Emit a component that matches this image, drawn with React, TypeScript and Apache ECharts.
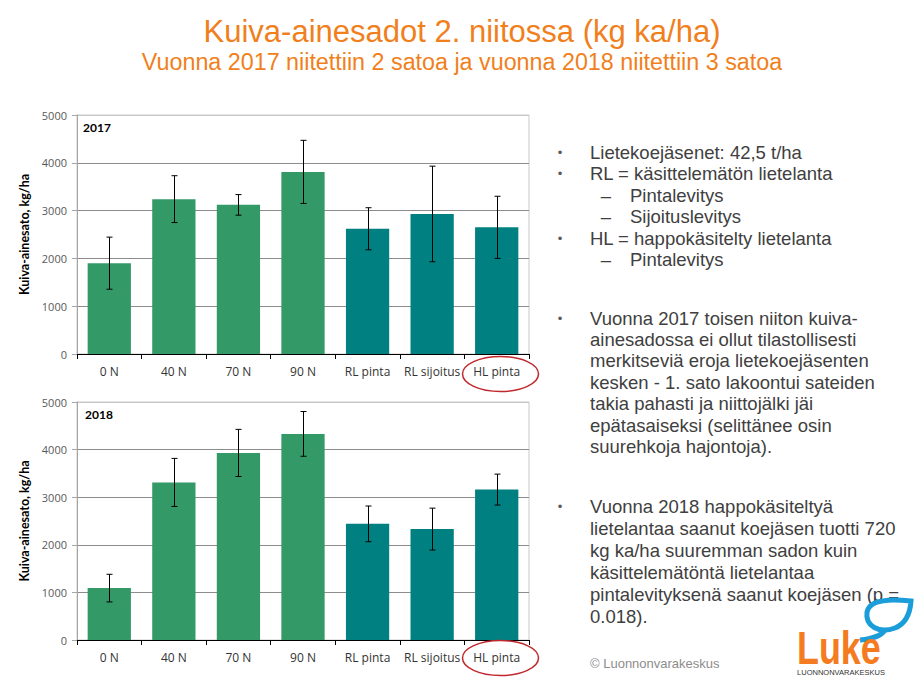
import React, { useEffect, useRef } from "react";
import * as echarts from "echarts";

// ---------- Data ----------
const categories = ["0 N", "40 N", "70 N", "90 N", "RL pinta", "RL sijoitus", "HL pinta"];
const yield2017 = [1900, 3240, 3120, 3810, 2620, 2930, 2650];
const sd2017 = [545, 490, 215, 660, 440, 1000, 650];
const yield2018 = [1090, 3310, 3930, 4330, 2440, 2330, 3160];
const sd2018 = [290, 505, 495, 470, 375, 440, 325];
const manureType = ["min", "min", "min", "min", "slurry", "slurry", "slurry"];
const yMin = 0;
const yMax = 5000;
const yInterval = 1000;

const titleText = "Kuiva-ainesadot 2. niitossa (kg ka/ha)";
const subtitleText = "Vuonna 2017 niitettiin 2 satoa ja vuonna 2018 niitettiin 3 satoa";
const yAxisName = "Kuiva-ainesato, kg/ha";
const panelLabels = ["2017", "2018"];

const bulletBlock1 = [
  { level: 1, text: "Lietekoejäsenet: 42,5 t/ha" },
  { level: 1, text: "RL = käsittelemätön lietelanta" },
  { level: 2, text: "Pintalevitys" },
  { level: 2, text: "Sijoituslevitys" },
  { level: 1, text: "HL = happokäsitelty lietelanta" },
  { level: 2, text: "Pintalevitys" },
];
const bulletBlock2 = [
  "Vuonna 2017 toisen niiton kuiva-",
  "ainesadossa ei ollut tilastollisesti",
  "merkitseviä eroja lietekoejäsenten",
  "kesken - 1. sato lakoontui sateiden",
  "takia pahasti ja niittojälki jäi",
  "epätasaiseksi (selittänee osin",
  "suurehkoja hajontoja).",
];
const bulletBlock3 = [
  "Vuonna 2018 happokäsiteltyä",
  "lietelantaa saanut koejäsen tuotti 720",
  "kg ka/ha suuremman sadon kuin",
  "käsittelemätöntä lietelantaa",
  "pintalevityksenä saanut koejäsen (p =",
  "0.018).",
];

// ---------- Styles ----------
const ORANGE = "#f07f1c";
const GREEN = "#339966";
const TEAL = "#008080";
const TEXT = "#404040";
const ARIAL = '"Liberation Sans", Arial, sans-serif';
const CHART_FONT = '"Open Sans", Lato, sans-serif';
const BOLD_FONT = 'Lato, "Open Sans", sans-serif';

echarts.graphic.registerShape(
  "logo",
  echarts.graphic.extendPath(
    "M 895 628 C 879 634 865 626 867 612 C 869 601 884 598 911 601 C 910 615 905 624 895 628 Z M 885 630 C 881 636 871 639 860 640",
    {}
  )
);

function buildOption() {
  const grids = [
    { left: 77, top: 115, width: 452, height: 239 },
    { left: 77, top: 402, width: 452, height: 238 },
  ];
  const datasets = [
    { values: yield2017, sd: sd2017 },
    { values: yield2018, sd: sd2018 },
  ];

  const xAxes = grids.map((_, i) => ({
    type: "category",
    gridIndex: i,
    data: categories,
    boundaryGap: true,
    axisLine: { lineStyle: { color: "#000", width: 1 } },
    axisTick: { show: true, alignWithLabel: false, length: 5, lineStyle: { color: "#000" } },
    axisLabel: { color: "#333", fontSize: 12, fontFamily: CHART_FONT, margin: 11, interval: 0 },
  }));

  const yAxes = grids.map((_, i) => ({
    type: "value",
    gridIndex: i,
    min: yMin,
    max: yMax,
    interval: yInterval,
    name: yAxisName,
    nameLocation: "middle",
    nameRotate: 90,
    nameGap: 46,
    nameTextStyle: { color: "#000", fontSize: 12.5, fontWeight: "bold", fontFamily: BOLD_FONT },
    axisLine: { show: true, lineStyle: { color: "#a6a6a6" } },
    axisTick: { show: true, length: 5, lineStyle: { color: "#a6a6a6" } },
    axisLabel: {
      color: "#595959",
      fontSize: 11,
      fontFamily: CHART_FONT,
      margin: 10,
      formatter: (v: number) => String(v),
    },
    splitLine: {
      show: true,
      lineStyle: { color: ["#8c8c8c", "#8c8c8c", "#8c8c8c", "#8c8c8c", "#8c8c8c", "#c8c8c8"], width: 1 },
    },
  }));

  const series: any[] = [];
  datasets.forEach((d, i) => {
    series.push({
      type: "bar",
      xAxisIndex: i,
      yAxisIndex: i,
      barCategoryGap: "33%",
      data: d.values.map((v, k) => ({
        value: v,
        itemStyle: { color: manureType[k] === "min" ? GREEN : TEAL },
      })),
      z: 2,
    });
    series.push({
      type: "custom",
      xAxisIndex: i,
      yAxisIndex: i,
      z: 5,
      data: d.values.map((v, k) => [k, v - d.sd[k], v + d.sd[k]]),
      encode: { x: 0, y: [1, 2] },
      renderItem: (params: any, api: any) => {
        const idx = api.value(0);
        const hi = api.coord([idx, api.value(2)]);
        const lo = api.coord([idx, api.value(1)]);
        const cap = 3;
        const x = Math.round(hi[0]) + 0.5;
        const st = { stroke: "#000", lineWidth: 1 };
        return {
          type: "group",
          children: [
            { type: "line", shape: { x1: x, y1: hi[1], x2: x, y2: lo[1] }, style: st },
            { type: "line", shape: { x1: x - cap, y1: hi[1], x2: x + cap, y2: hi[1] }, style: st },
            { type: "line", shape: { x1: x - cap, y1: lo[1], x2: x + cap, y2: lo[1] }, style: st },
          ],
        };
      },
    });
  });

  const graphic: any[] = [];
  graphic.push({
    type: "text",
    x: 462,
    y: 31,
    z: 100,
    style: { text: titleText, fill: ORANGE, fontSize: 31, fontFamily: ARIAL, align: "center", verticalAlign: "middle" },
  });
  graphic.push({
    type: "text",
    x: 462,
    y: 62,
    z: 100,
    style: { text: subtitleText, fill: ORANGE, fontSize: 23.3, fontFamily: ARIAL, align: "center", verticalAlign: "middle" },
  });

  [
    { x: 83, y: 127 },
    { x: 85, y: 414 },
  ].forEach((p, i) =>
    graphic.push({
      type: "text",
      x: p.x,
      y: p.y,
      z: 100,
      style: { text: panelLabels[i], fill: "#000", fontSize: 12, fontWeight: "bold", fontFamily: BOLD_FONT, align: "left", verticalAlign: "middle" },
    })
  );

  [374, 658].forEach((cy) =>
    graphic.push({
      type: "ellipse",
      z: 100,
      shape: { cx: 500.5, cy, rx: 38, ry: 17.5 },
      style: { fill: "transparent", stroke: "#c0282d", lineWidth: 1.5 },
    })
  );

  const bullet = (y: number) => ({
    type: "text",
    x: 560,
    y,
    z: 100,
    style: { text: "•", fill: "#595959", fontSize: 13, fontFamily: ARIAL, align: "center", verticalAlign: "middle" },
  });
  const line = (x: number, y: number, t: string) => ({
    type: "text",
    x,
    y,
    z: 100,
    style: { text: t, fill: TEXT, fontSize: 18.5, fontFamily: ARIAL, align: "left", verticalAlign: "middle" },
  });

  bulletBlock1.forEach((b, k) => {
    const y = 152 + k * 21.5;
    if (b.level === 1) {
      graphic.push(bullet(y));
      graphic.push(line(590, y, b.text));
    } else {
      graphic.push({
        type: "text",
        x: 606,
        y,
        z: 100,
        style: { text: "–", fill: TEXT, fontSize: 18.5, fontFamily: ARIAL, align: "center", verticalAlign: "middle" },
      });
      graphic.push(line(630, y, b.text));
    }
  });
  bulletBlock2.forEach((t, k) => {
    const y = 318 + k * 21.4;
    if (k === 0) graphic.push(bullet(y));
    graphic.push(line(590, y, t));
  });
  bulletBlock3.forEach((t, k) => {
    const y = 506 + k * 22;
    if (k === 0) graphic.push(bullet(y));
    graphic.push(line(590, y, t));
  });

  graphic.push({
    type: "text",
    x: 590,
    y: 663,
    z: 100,
    style: { text: "© Luonnonvarakeskus", fill: "#8c8c8c", fontSize: 13, fontFamily: ARIAL, align: "left", verticalAlign: "middle" },
  });

  // Luke logo
  graphic.push({
    type: "logo",
    x: 0,
    y: 0,
    z: 101,
    style: { fill: "transparent", stroke: "#1b9dd9", lineWidth: 5 },
  });
  graphic.push({
    type: "text",
    x: 797,
    y: 648,
    z: 101,
    scaleX: 0.78,
    style: { text: "Luke", fill: "#f47b20", fontSize: 46, fontWeight: "bold", fontFamily: ARIAL, align: "left", verticalAlign: "middle" },
  });
  graphic.push({
    type: "text",
    x: 841,
    y: 672,
    z: 101,
    style: { text: "LUONNONVARAKESKUS", fill: "#333", fontSize: 7.5, fontFamily: ARIAL, align: "center", verticalAlign: "middle" },
  });

  return {
    animation: false,
    backgroundColor: "#ffffff",
    grid: grids.map((g) => ({ ...g, show: true, borderColor: "#c8c8c8", borderWidth: 1, backgroundColor: "transparent" })),
    xAxis: xAxes,
    yAxis: yAxes,
    series,
    graphic,
  };
}

export default function App() {
  const ref = useRef<HTMLDivElement>(null);
  useEffect(() => {
    if (!ref.current) return;
    const chart = echarts.init(ref.current, null, { renderer: "svg" });
    chart.setOption(buildOption() as any);
    return () => chart.dispose();
  }, []);
  return (
    <div
      ref={ref}
      style={{ position: "fixed", left: 0, top: 0, width: 914, height: 683, background: "#fff" }}
    />
  );
}
